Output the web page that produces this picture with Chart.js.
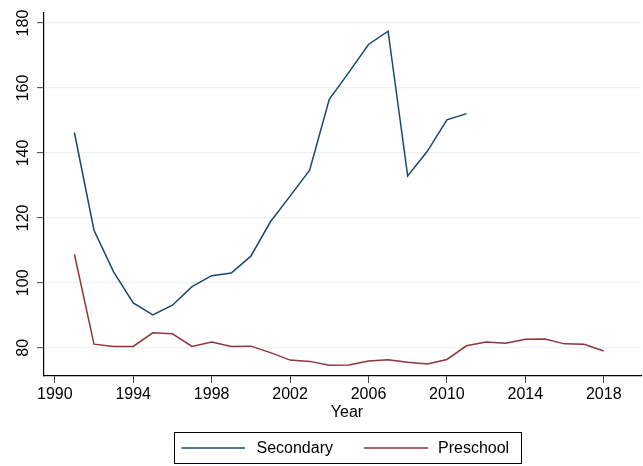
<!DOCTYPE html>
<html>
<head>
<meta charset="utf-8">
<script src="https://cdn.jsdelivr.net/npm/chart.js@4"></script>
<style>
  html, body { margin: 0; padding: 0; background: #fff; }
  #wrap { width: 643px; height: 466px; }
</style>
</head>
<body>
<div id="wrap"><canvas id="eduChart" width="643" height="466"></canvas></div>
<script>
// Enrollment chart (Stata look)

const years = [1991, 1992, 1993, 1994, 1995, 1996, 1997, 1998, 1999, 2000,
               2001, 2002, 2003, 2004, 2005, 2006, 2007, 2008, 2009, 2010,
               2011, 2012, 2013, 2014, 2015, 2016, 2017, 2018];
const secondary = [146.3, 116.2, 103.4, 93.8, 90.1, 93.1, 98.8, 102.2, 103.0, 108.2,
                   118.8, 126.7, 134.7, 156.5, 164.8, 173.4, 177.5, 132.9, 140.5, 150.2,
                   152.1, null, null, null, null, null, null, null];
const preschool = [108.8, 81.1, 80.4, 80.4, 84.6, 84.3, 80.4, 81.8, 80.4, 80.5,
                   78.5, 76.2, 75.8, 74.6, 74.7, 75.9, 76.3, 75.5, 75.0, 76.4,
                   80.6, 81.8, 81.4, 82.6, 82.7, 81.2, 81.1, 79.0];
const xTicks = [1990, 1994, 1998, 2002, 2006, 2010, 2014, 2018];
const yTicks = [80, 100, 120, 140, 160, 180];
const seriesNames = ['Secondary', 'Preschool'];
const seriesColors = ['#1a476f', '#90353b'];

const FONT = '"Liberation Sans", Arial, sans-serif';

function toPoints(vals) {
    return years.map((y, i) => ({ x: y, y: vals[i] }));
}

// rotated y labels, x title and boxed legend
const stataExtras = {
    id: 'stataExtras',
    afterDraw(chart) {
        const ctx = chart.ctx;
        const yScale = chart.scales.y;
        ctx.save();
        ctx.fillStyle = '#000';
        ctx.font = '16px ' + FONT;
        ctx.textAlign = 'center';
        ctx.textBaseline = 'middle';
        yTicks.forEach(v => {
            const py = yScale.getPixelForValue(v);
            ctx.save();
            ctx.translate(23.5, py);
            ctx.rotate(-Math.PI / 2);
            ctx.fillText(String(v), 0, 0);
            ctx.restore();
        });

        // axis title
        ctx.fillText('Year', 347, 412.5);

        // legend box
        ctx.strokeStyle = '#000';
        ctx.lineWidth = 1;
        ctx.strokeRect(174.5, 432.5, 347, 31);
        const ly = 448;
        const items = [
            { x0: 181.5, x1: 245, tx: 256.5 },
            { x0: 364, x1: 428, tx: 438 }
        ];
        ctx.textAlign = 'left';
        items.forEach((it, i) => {
            ctx.strokeStyle = seriesColors[i];
            ctx.lineWidth = 1.5;
            ctx.beginPath();
            ctx.moveTo(it.x0, ly);
            ctx.lineTo(it.x1, ly);
            ctx.stroke();
            ctx.fillStyle = '#000';
            ctx.fillText(seriesNames[i], it.tx, ly + 0.5);
        });
        ctx.restore();
    }
};

function initEduChart() {
    const ctx = document.getElementById('eduChart').getContext('2d');

    new Chart(ctx, {
        type: 'line',
        data: {
            datasets: [
                {
                    label: seriesNames[0],
                    data: toPoints(secondary),
                    borderColor: seriesColors[0],
                    borderWidth: 1.5,
                    pointRadius: 0,
                    spanGaps: false,
                    tension: 0
                },
                {
                    label: seriesNames[1],
                    data: toPoints(preschool),
                    borderColor: seriesColors[1],
                    borderWidth: 1.5,
                    pointRadius: 0,
                    tension: 0
                }
            ]
        },
        options: {
            responsive: false,
            animation: false,
            layout: { padding: { top: 13, right: 2, left: 0, bottom: 0 } },
            plugins: {
                legend: { display: false },
                tooltip: { enabled: false }
            },
            scales: {
                x: {
                    type: 'linear',
                    min: 1989.45,
                    max: 2019.9,
                    afterBuildTicks: s => { s.ticks = xTicks.map(v => ({ value: v })); },
                    afterFit: s => { s.height = 90; },
                    grid: {
                        drawOnChartArea: false,
                        tickLength: 7,
                        tickColor: '#444',
                        tickWidth: 1
                    },
                    border: { color: '#000', width: 1.2 },
                    ticks: {
                        color: '#000',
                        padding: 2,
                        maxRotation: 0,
                        autoSkip: false,
                        font: { family: FONT, size: 16 },
                        callback: v => String(v)
                    }
                },
                y: {
                    min: 71.3,
                    max: 183.1,
                    afterBuildTicks: s => { s.ticks = yTicks.map(v => ({ value: v })); },
                    afterFit: s => { s.width = 44; },
                    grid: {
                        color: '#eaf2f3',
                        lineWidth: 1.3,
                        tickLength: 7,
                        tickColor: '#444',
                        tickWidth: 1
                    },
                    border: { color: '#000', width: 1.2 },
                    ticks: { display: false }
                }
            }
        },
        plugins: [stataExtras]
    });
}

document.addEventListener('DOMContentLoaded', function() {
    if (document.getElementById('eduChart')) {
        initEduChart();
    }
});
</script>
</body>
</html>
